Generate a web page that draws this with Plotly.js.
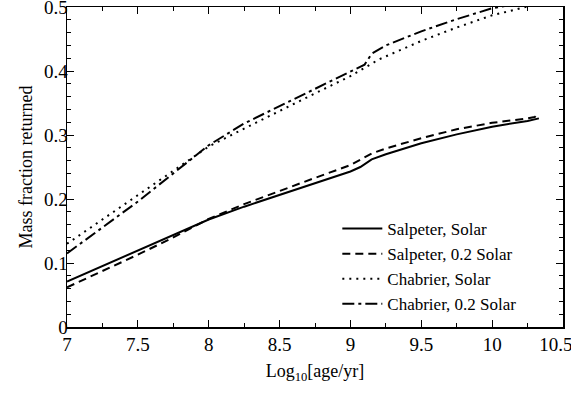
<!DOCTYPE html>
<html>
<head>
<meta charset="utf-8">
<script src="https://cdn.plot.ly/plotly-3.0.1.min.js"></script>
<style>
  html, body { margin: 0; padding: 0; background: #fff; }
  #massPlot { width: 571px; height: 394px; }
</style>
</head>
<body>
<div id="massPlot"></div>
<script>
// mass fraction returned vs log age
let salSolarX = [7, 7.25, 7.5, 7.75, 8, 8.25, 8.5, 8.75, 9, 9.07, 9.15, 9.25, 9.5, 9.75, 10, 10.25, 10.33];
let salSolarY = [0.071, 0.095, 0.12, 0.143, 0.168, 0.188, 0.206, 0.225, 0.243, 0.25, 0.262, 0.27, 0.287, 0.301, 0.313, 0.322, 0.326];

let salLowX = [7, 7.25, 7.5, 7.75, 8, 8.25, 8.5, 8.75, 9, 9.07, 9.15, 9.25, 9.5, 9.75, 10, 10.25, 10.3, 10.33];
let salLowY = [0.062, 0.087, 0.113, 0.14, 0.169, 0.192, 0.213, 0.233, 0.253, 0.261, 0.271, 0.279, 0.295, 0.309, 0.319, 0.326, 0.328, 0.335];

let chabSolarX = [7, 7.25, 7.5, 7.75, 8, 8.25, 8.5, 8.75, 9, 9.1, 9.2, 9.5, 9.75, 10, 10.25, 10.33];
let chabSolarY = [0.13, 0.168, 0.205, 0.243, 0.282, 0.31, 0.338, 0.365, 0.392, 0.405, 0.418, 0.447, 0.468, 0.487, 0.5, 0.505];

let chabLowX = [7, 7.25, 7.5, 7.75, 8, 8.25, 8.5, 8.75, 9, 9.1, 9.15, 9.25, 9.5, 9.75, 10, 10.1];
let chabLowY = [0.115, 0.155, 0.196, 0.24, 0.284, 0.318, 0.345, 0.372, 0.398, 0.41, 0.427, 0.44, 0.462, 0.481, 0.498, 0.502];

let names = ['Salpeter, Solar', 'Salpeter, 0.2 Solar', 'Chabrier, Solar', 'Chabrier, 0.2 Solar'];

// last label nudged left so it stays inside the page, like the original
let xTickVals = [7, 7.5, 8, 8.5, 9, 9.5, 10, 10.5];
let xTickText = ['7', '7.5', '8', '8.5', '9', '9.5', '10', '10.5\u00a0\u00a0\u00a0'];

let font = '"Liberation Serif", "Times New Roman", serif';

var data = [
  {x: salSolarX, y: salSolarY, mode: 'lines', name: names[0],
   line: {color: 'black', width: 2, dash: 'solid'}},
  {x: salLowX, y: salLowY, mode: 'lines', name: names[1],
   line: {color: 'black', width: 2, dash: '8px,5px'}},
  {x: chabSolarX, y: chabSolarY, mode: 'lines', name: names[2],
   line: {color: 'black', width: 2, dash: '2px,5px'}},
  {x: chabLowX, y: chabLowY, mode: 'lines', name: names[3],
   line: {color: 'black', width: 2, dash: '12px,4px,3px,4px'}}
];

var axisCommon = {
  showgrid: false, zeroline: false,
  showline: true, linecolor: 'black', linewidth: 1.5, mirror: 'allticks',
  ticks: 'inside', ticklen: 7, tickwidth: 1, tickcolor: 'black',
  ticklabeloverflow: 'allow',
  tickfont: {family: font, size: 19, color: 'black'}
};

var layout = {
  width: 571, height: 394,
  paper_bgcolor: 'white', plot_bgcolor: 'white',
  margin: {l: 67, r: 8, t: 7, b: 67},
  font: {family: font, size: 16, color: 'black'},
  xaxis: Object.assign({}, axisCommon, {
    range: [7, 10.5], tickmode: 'array', tickvals: xTickVals, ticktext: xTickText,
    minor: {dtick: 0.25, ticklen: 4, ticks: 'inside', tickcolor: 'black'},
    title: {text: 'Log<sub>10</sub>[age/yr]', standoff: 10, font: {family: font, size: 18}}
  }),
  yaxis: Object.assign({}, axisCommon, {
    range: [0, 0.5], dtick: 0.1, tick0: 0, ticklabelstandoff: -6,
    minor: {dtick: 0.02, ticklen: 4, ticks: 'inside', tickcolor: 'black'},
    title: {text: 'Mass fraction returned', standoff: 6, font: {family: font, size: 18}}
  }),
  showlegend: true,
  legend: {x: 0.545, y: 0.3625, xanchor: 'left', yanchor: 'top', itemwidth: 40,
    bgcolor: 'rgba(0,0,0,0)', font: {family: font, size: 17}, tracegroupgap: 0}
};

Plotly.newPlot('massPlot', data, layout, {displayModeBar: false, staticPlot: true});
</script>
</body>
</html>
